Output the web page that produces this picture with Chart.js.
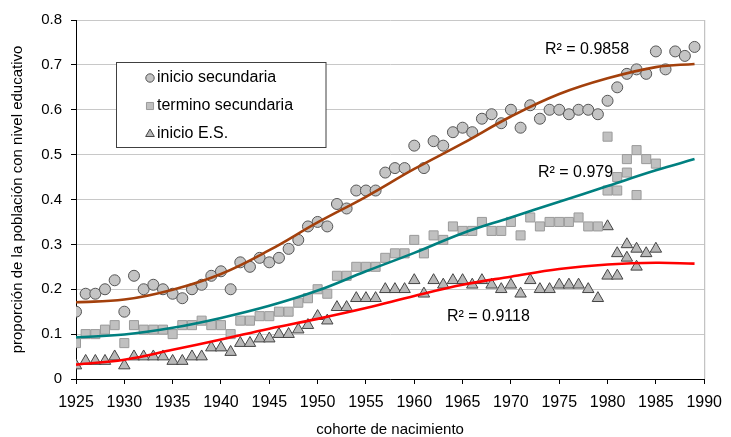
<!DOCTYPE html>
<html>
<head>
<meta charset="utf-8">
<script src="https://cdn.jsdelivr.net/npm/chart.js@4"></script>
<style>
  body { margin: 0; background: #fff; }
  #wrap { width: 731px; height: 437px; }
</style>
</head>
<body>
<div id="wrap"><canvas id="grafico" width="731" height="437"></canvas></div>
<script>
// años de cohorte
const years = [1925,1926,1927,1928,1929,1930,1931,1932,1933,1934,
  1935,1936,1937,1938,1939,1940,1941,1942,1943,1944,
  1945,1946,1947,1948,1949,1950,1951,1952,1953,1954,
  1955,1956,1957,1958,1959,1960,1961,1962,1963,1964,
  1965,1966,1967,1968,1969,1970,1971,1972,1973,1974,
  1975,1976,1977,1978,1979,1980,1981,1982,1983,1984,
  1985,1986,1987,1988,1989];

const inicioSec = [0.15,0.19,0.19,0.20,0.22,0.15,0.23,0.20,0.21,0.20,
  0.19,0.18,0.20,0.21,0.23,0.24,0.20,0.26,0.25,0.27,
  0.26,0.27,0.29,0.31,0.34,0.35,0.34,0.39,0.38,0.42,
  0.42,0.42,0.46,0.47,0.47,0.52,0.47,0.53,0.52,0.55,
  0.56,0.55,0.58,0.59,0.57,0.60,0.56,0.61,0.58,0.60,
  0.60,0.59,0.60,0.60,0.59,0.62,0.65,0.68,0.69,0.68,
  0.73,0.69,0.73,0.72,0.74];

// 1925-1985
const terminoSec = [0.08,0.10,0.10,0.11,0.12,0.08,0.12,0.11,0.11,0.11,
  0.10,0.12,0.12,0.13,0.12,0.12,0.10,0.13,0.13,0.14,
  0.14,0.15,0.15,0.17,0.18,0.20,0.19,0.23,0.23,0.25,
  0.25,0.25,0.27,0.28,0.28,0.31,0.28,0.32,0.31,0.34,
  0.33,0.33,0.35,0.33,0.33,0.35,0.32,0.36,0.34,0.35,
  0.35,0.35,0.36,0.34,0.34,0.54,0.45,0.49,0.51,0.49,
  0.48];
const inicioES = [0.03,0.04,0.04,0.04,0.05,0.03,0.05,0.05,0.05,0.05,
  0.04,0.04,0.05,0.05,0.07,0.07,0.06,0.08,0.08,0.09,
  0.09,0.10,0.10,0.11,0.12,0.14,0.13,0.16,0.16,0.18,
  0.18,0.18,0.20,0.20,0.20,0.22,0.19,0.22,0.21,0.22,
  0.22,0.21,0.22,0.21,0.20,0.21,0.19,0.22,0.20,0.20,
  0.21,0.21,0.21,0.20,0.18,0.34,0.28,0.30,0.29,0.28,
  0.29];

// segundo punto en 1980-1983
const extraYears = [1980,1981,1982,1983];
const terminoExtra = [0.42,0.42,0.46,0.41];
const esExtra = [0.23,0.23,0.27,0.25];

// lineas de tendencia
const trendYears = [1925,1930,1935,1940,1945,1950,1955,1960,1965,1970,1975,1980,1985,1989];
const trendInicio = [0.171,0.177,0.199,0.234,0.287,0.349,0.406,0.468,0.525,0.585,0.635,0.670,0.695,0.702];
const trendTermino = [0.093,0.099,0.114,0.136,0.163,0.197,0.240,0.281,0.325,0.360,0.395,0.430,0.465,0.490];
const trendES = [0.032,0.043,0.065,0.088,0.112,0.134,0.158,0.185,0.210,0.228,0.245,0.255,0.259,0.257];

const r2Labels = ['R\u00b2 = 0.9858', 'R\u00b2 = 0.979', 'R\u00b2 = 0.9118'];
const seriesNames = ['inicio secundaria', 'termino secundaria', 'inicio E.S.'];

const xTicks = [1925,1930,1935,1940,1945,1950,1955,1960,1965,1970,1975,1980,1985,1990];
const yTicks = [0,0.1,0.2,0.3,0.4,0.5,0.6,0.7,0.8];

const FONT = "'Liberation Sans', Arial, sans-serif";

function pts(xs, ys) {
  return ys.map((v, i) => ({x: xs[i], y: v}));
}

const marcas = [
  {pointStyle: 'circle', radius: 5.5, bg: '#c4c4c4', border: '#555555'},
  {pointStyle: 'rect', radius: 6.4, bg: '#c0c0c0', border: '#9a9a9a'},
  {pointStyle: 'triangle', radius: 6.6, bg: '#b8b8b8', border: '#444444'}
];

function scatterSet(label, data, m) {
  return {
    label: label, data: data, showLine: false, order: 2,
    pointStyle: m.pointStyle, pointRadius: m.radius, pointHoverRadius: m.radius,
    pointBackgroundColor: m.bg, pointBorderColor: m.border, pointBorderWidth: 1
  };
}
function trendSet(data, color) {
  return {
    label: '', data: data, showLine: true, order: 0,
    borderColor: color, borderWidth: 2.6, pointRadius: 0,
    tension: 0.4, fill: false
  };
}

const datasets = [
  scatterSet(seriesNames[0], pts(years, inicioSec), marcas[0]),
  scatterSet(seriesNames[1], pts(years, terminoSec).concat(pts(extraYears, terminoExtra)), marcas[1]),
  scatterSet(seriesNames[2], pts(years, inicioES).concat(pts(extraYears, esExtra)), marcas[2]),
  trendSet(pts(trendYears, trendInicio), '#a3400c'),
  trendSet(pts(trendYears, trendTermino), '#008080'),
  trendSet(pts(trendYears, trendES), '#ff0000')
];

// leyenda, borde derecho y etiquetas R2
const extras = {
  id: 'extras',
  afterDraw(chart) {
    const ctx = chart.ctx;
    const a = chart.chartArea;
    ctx.save();
    ctx.strokeStyle = '#b4b4b4';
    ctx.lineWidth = 1;
    ctx.beginPath();
    ctx.moveTo(a.right + 0.5, a.top);
    ctx.lineTo(a.right + 0.5, a.bottom);
    ctx.stroke();

    // caja de leyenda
    ctx.fillStyle = '#fff';
    ctx.strokeStyle = '#404040';
    ctx.fillRect(116.5, 62.5, 209.5, 85);
    ctx.strokeRect(116.5, 62.5, 209.5, 85);
    ctx.font = '16px ' + FONT;
    ctx.textBaseline = 'middle';
    ctx.textAlign = 'left';
    const rows = [78, 106, 134];
    for (let i = 0; i < 3; i++) {
      const m = marcas[i];
      ctx.fillStyle = m.bg;
      ctx.strokeStyle = m.border;
      ctx.lineWidth = 1;
      Chart.helpers.drawPoint(ctx, {pointStyle: m.pointStyle, radius: i === 0 ? 4.2 : 5, rotation: 0, borderWidth: 1}, 150, rows[i]);
      ctx.fillStyle = '#000';
      ctx.fillText(seriesNames[i], 157, rows[i]);
    }

    ctx.fillStyle = '#000';
    ctx.font = '16px ' + FONT;
    ctx.fillText(r2Labels[0], 545, 50);
    ctx.fillText(r2Labels[1], 538, 173);
    ctx.fillText(r2Labels[2], 447, 317);
    ctx.restore();
  }
};

new Chart(document.getElementById('grafico'), {
  type: 'scatter',
  data: {datasets: datasets},
  options: {
    responsive: false,
    animation: false,
    layout: {padding: {top: 20, right: 20, left: 0, bottom: 0}},
    plugins: {legend: {display: false}, tooltip: {enabled: false}},
    scales: {
      x: {
        type: 'linear', min: 1925, max: 1990,
        afterBuildTicks: s => { s.ticks = xTicks.map(v => ({value: v})); },
        afterFit: s => { s.height = 58; },
        grid: {drawOnChartArea: false, drawTicks: true, tickLength: 5, tickColor: '#000'},
        border: {color: '#000', width: 1},
        ticks: {color: '#000', font: {family: FONT, size: 16}, padding: 9, maxRotation: 0,
          callback: v => String(v)},
        title: {display: true, text: 'cohorte de nacimiento', color: '#000',
          font: {family: FONT, size: 15, lineHeight: 1}, padding: {top: 0, bottom: 0}}
      },
      y: {
        min: 0, max: 0.8,
        afterBuildTicks: s => { s.ticks = yTicks.map(v => ({value: v})); },
        afterFit: s => { s.width = 76; },
        grid: {color: '#c8c8c8', tickLength: 5, tickColor: '#000'},
        border: {color: '#000', width: 1},
        ticks: {color: '#000', font: {family: FONT, size: 15}, padding: 9,
          callback: v => String(v)},
        title: {display: true, text: 'proporción de la población con nivel educativo', color: '#000',
          font: {family: FONT, size: 15, lineHeight: 1.2}, padding: {top: 9, bottom: 0}}
      }
    }
  },
  plugins: [extras]
});
</script>
</body>
</html>
